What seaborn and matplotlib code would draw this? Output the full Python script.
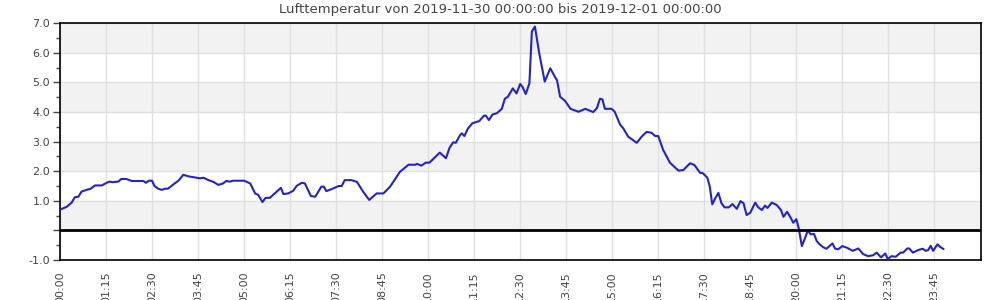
import matplotlib
matplotlib.use("Agg")
import matplotlib.pyplot as plt
import seaborn as sns
import pandas as pd
from matplotlib.ticker import MultipleLocator, FixedLocator

minutes = [0, 11, 19, 24, 30, 35, 43, 50, 57, 68, 76, 81, 86, 95, 100, 108, 117, 136, 140, 145,
           150, 154, 160, 166, 171, 176, 185, 193, 201, 209, 217, 228, 234, 242, 250, 258, 265, 271, 277, 282,
           300, 310, 318, 323, 330, 335, 342, 350, 360, 364, 372, 380, 386, 394, 399, 409, 416, 426, 430, 434,
           442, 454, 459, 464, 475, 484, 494, 504, 516, 527, 538, 554, 568, 579, 582, 589, 596, 602, 611, 619,
           629, 635, 641, 645, 652, 655, 659, 665, 672, 679, 683, 691, 694, 699, 705, 712, 720, 725, 730, 738,
           744, 750, 754, 759, 765, 769, 774, 781, 790, 799, 808, 810, 815, 823, 832, 845, 856, 869, 875, 880,
           884, 888, 899, 904, 913, 918, 926, 932, 940, 948, 956, 964, 970, 975, 983, 994, 1008, 1016, 1021, 1027,
           1034, 1043, 1048, 1055, 1059, 1063, 1068, 1073, 1078, 1083, 1090, 1096, 1103, 1109, 1114, 1119, 1125, 1133, 1138, 1144,
           1149, 1153, 1160, 1168, 1175, 1179, 1185, 1190, 1195, 1200, 1204, 1209, 1214, 1219, 1223, 1229, 1233, 1238, 1244, 1249,
           1259, 1263, 1268, 1275, 1282, 1292, 1301, 1309, 1317, 1325, 1331, 1338, 1345, 1349, 1355, 1362, 1370, 1374, 1381, 1384,
           1390, 1399, 1406, 1411, 1415, 1419, 1423, 1430, 1434, 1440]

temperature = [0.70, 0.80, 0.94, 1.12, 1.14, 1.31, 1.37, 1.41, 1.52, 1.52, 1.61, 1.65, 1.63, 1.65, 1.74, 1.74, 1.67, 1.67, 1.61, 1.68,
               1.68, 1.50, 1.41, 1.37, 1.41, 1.41, 1.56, 1.68, 1.88, 1.83, 1.80, 1.76, 1.78, 1.70, 1.64, 1.54, 1.58, 1.67, 1.65, 1.68,
               1.68, 1.59, 1.25, 1.20, 0.96, 1.10, 1.10, 1.25, 1.44, 1.23, 1.25, 1.34, 1.51, 1.61, 1.59, 1.16, 1.14, 1.48, 1.48, 1.33,
               1.39, 1.50, 1.50, 1.70, 1.70, 1.64, 1.31, 1.03, 1.25, 1.25, 1.48, 1.98, 2.22, 2.22, 2.25, 2.19, 2.29, 2.29, 2.47, 2.63,
               2.44, 2.80, 2.98, 2.96, 3.22, 3.28, 3.19, 3.45, 3.62, 3.67, 3.69, 3.88, 3.88, 3.73, 3.92, 3.96, 4.11, 4.45, 4.52, 4.80,
               4.63, 4.95, 4.84, 4.61, 4.97, 6.72, 6.89, 5.99, 5.03, 5.48, 5.14, 5.08, 4.52, 4.38, 4.11, 4.01, 4.11, 4.00, 4.13, 4.45,
               4.43, 4.11, 4.11, 4.01, 3.57, 3.45, 3.17, 3.08, 2.96, 3.17, 3.33, 3.30, 3.19, 3.19, 2.72, 2.29, 2.02, 2.04, 2.15, 2.27,
               2.21, 1.95, 1.93, 1.78, 1.48, 0.88, 1.09, 1.27, 0.92, 0.78, 0.78, 0.89, 0.73, 0.99, 0.92, 0.52, 0.60, 0.94, 0.78, 0.69,
               0.84, 0.76, 0.94, 0.86, 0.69, 0.46, 0.63, 0.46, 0.26, 0.38, 0.07, -0.53, -0.27, 0.01, -0.13, -0.12, -0.35, -0.47, -0.57, -0.62,
               -0.44, -0.61, -0.64, -0.53, -0.58, -0.69, -0.61, -0.80, -0.87, -0.84, -0.75, -0.91, -0.78, -0.97, -0.87, -0.89, -0.75, -0.75, -0.61, -0.61,
               -0.75, -0.66, -0.62, -0.69, -0.66, -0.52, -0.69, -0.47, -0.55, -0.63]

x_tick_labels = ["00:00", "01:15", "02:30", "03:45", "05:00", "06:15", "07:30", "08:45", "10:00", "11:15",
                 "12:30", "13:45", "15:00", "16:15", "17:30", "18:45", "20:00", "21:15", "22:30", "23:45"]
y_tick_values = [-1.0, 0.0, 1.0, 2.0, 3.0, 4.0, 5.0, 6.0, 7.0]
y_tick_labels = ["-1.0", "", "1.0", "2.0", "3.0", "4.0", "5.0", "6.0", "7.0"]
title = "Lufttemperatur von 2019-11-30 00:00:00 bis 2019-12-01 00:00:00"
unit = "°C"

df = pd.DataFrame({"minute": minutes, "temp": temperature})

sns.set_style("white")
plt.rcParams["font.family"] = ["DejaVu Sans"]

fig = plt.figure(figsize=(10, 3), dpi=100)
ax = fig.add_axes([0.06, 0.1333, 0.921, 0.789])

# alternating bands
for lo in [0, 2, 4, 6]:
    ax.axhspan(lo, lo + 1, color="#f2f2f2", zorder=0, lw=0)

sns.lineplot(data=df, x="minute", y="temp", ax=ax, color="#2323cc", lw=1.5, zorder=3)
ax.axhline(0, color="black", lw=2, zorder=4)

def hm_to_min(s):
    h, m = s.split(":")
    return int(h) * 60 + int(m)

ax.set_xlim(0, 1501)
ax.set_ylim(-1, 7)
ax.set_xticks([hm_to_min(s) for s in x_tick_labels])
ax.set_xticklabels(x_tick_labels, rotation=90, fontsize=8, color="#444444")
ax.set_yticks(y_tick_values)
ax.set_yticklabels(y_tick_labels, fontsize=8, color="#444444")
ax.yaxis.set_minor_locator(MultipleLocator(0.5))
ax.tick_params(axis="y", which="major", length=5, width=1, color="#444444", left=True, pad=2)
ax.tick_params(axis="y", which="minor", length=3, width=1, color="#444444", left=True)
ax.tick_params(axis="x", which="major", length=0, pad=8)

ax.grid(True, which="major", color="#e0e0e0", lw=1, zorder=1)
ax.set_axisbelow(True)
for sp in ax.spines.values():
    sp.set_visible(True)
    sp.set_color("black")
    sp.set_linewidth(1.2)

ax.set_xlabel("")
ax.set_ylabel(unit, fontsize=8, color="#444444", labelpad=22)
fig.text(0.5, 0.967, title, ha="center", va="center", fontsize=9.5, color="#444444")

fig.savefig("out.png", dpi=100)
